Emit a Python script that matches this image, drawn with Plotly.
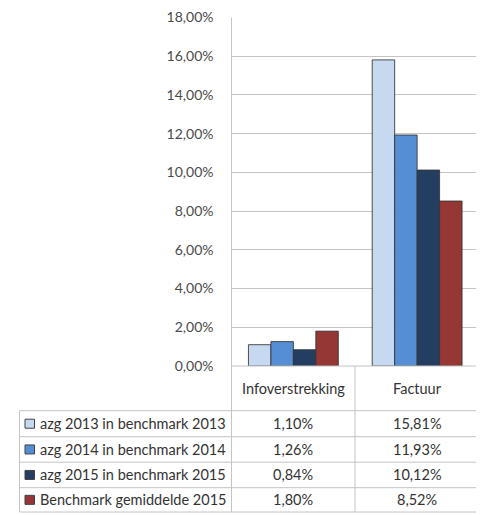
import plotly.graph_objects as go

categories = ["Infoverstrekking", "Factuur"]
series_names = [
    "azg 2013 in benchmark 2013",
    "azg 2014 in benchmark 2014",
    "azg 2015 in benchmark 2015",
    "Benchmark gemiddelde 2015",
]
infoverstrekking = [1.10, 1.26, 0.84, 1.80]
factuur = [15.81, 11.93, 10.12, 8.52]
colors = ["#c6d9f1", "#558ed5", "#233e60", "#953735"]
y_ticks = [0, 2, 4, 6, 8, 10, 12, 14, 16, 18]
y_tick_labels = [f"{v:.2f}%".replace(".", ",") for v in y_ticks]

W, H = 484, 515
OFF = 8  # page body margin compensation
FONT = "Lato"
GRID = "#c4c4c4"
TXT = "#333333"

def px(x):
    return (x - OFF) / W

def py(y):
    return 1 - (y - OFF) / H

fig = go.Figure()
for i, name in enumerate(series_names):
    fig.add_trace(go.Bar(
        x=categories,
        y=[infoverstrekking[i], factuur[i]],
        name=name,
        marker=dict(color=colors[i], line=dict(color="rgba(50,50,50,0.85)", width=1)),
    ))

y0, y18 = 366, 17.5
x_left = 231.5
x_right = W + OFF
cat_w = (479 - 231.5) / 2
fig.update_layout(
    width=W, height=H,
    margin=dict(l=0, r=0, t=0, b=0, pad=0),
    paper_bgcolor="white", plot_bgcolor="white",
    barmode="group", bargap=0.274, bargroupgap=0,
    showlegend=False,
    separators=",.",
    font=dict(family=FONT, size=14, color=TXT),
    xaxis=dict(
        domain=[px(x_left), px(x_right)],
        range=[-0.5, -0.5 + (x_right - x_left) / cat_w],
        showticklabels=False, showgrid=False, zeroline=False, showline=False,
        fixedrange=True, automargin=False,
    ),
    yaxis=dict(
        domain=[py(y0), py(y18)],
        range=[0, 18],
        tickmode="array",
        tickvals=y_ticks,
        ticktext=y_tick_labels,
        showgrid=True, gridcolor=GRID, gridwidth=1,
        zeroline=False, showline=False,
        ticks="", ticklabelstandoff=17,
        automargin=False,
        tickfont=dict(family=FONT, size=14, color="#4a4a4a"),
    ),
)

shapes = []
def line(x0, y0_, x1, y1_, color=GRID, w=1):
    shapes.append(dict(type="line", xref="paper", yref="paper",
                       x0=px(x0), y0=py(y0_), x1=px(x1), y1=py(y1_),
                       line=dict(color=color, width=w)))

# axis line extending through table
line(x_left, y18, x_left, 512)
# baseline
line(x_left, y0, x_right, y0)
# category separators in header/table
line(355, y0, 355, 512)
line(479, y0, 479, 512)
# table rows
row_y = [410.7, 436.7, 462.2, 487.7, 512]
for ry in row_y:
    line(19.5, ry, 479, ry)
line(19.5, 410.7, 19.5, 512)

annotations = []
# category labels
for c in categories:
    annotations.append(dict(x=c, y=py(388), xref="x", yref="paper", text=c,
                            showarrow=False, font=dict(family=FONT, size=14.5, color=TXT),
                            xanchor="center", yanchor="middle"))

col_x = [293, 417]
for r, name in enumerate(series_names):
    cy = (row_y[r] + row_y[r + 1]) / 2
    # legend square
    shapes.append(dict(type="rect", xref="paper", yref="paper",
                       x0=px(25), x1=px(34.5), y0=py(cy - 4.5), y1=py(cy + 4.5),
                       fillcolor=colors[r], line=dict(color="#404040", width=1)))
    annotations.append(dict(x=px(37.5), y=py(cy), xref="paper", yref="paper", text=name,
                            showarrow=False, font=dict(family=FONT, size=14.5, color=TXT),
                            xanchor="left", yanchor="middle"))
    for j, vals in enumerate([infoverstrekking, factuur]):
        txt = f"{vals[r]:.2f}%".replace(".", ",")
        annotations.append(dict(x=px(col_x[j]), y=py(cy), xref="paper", yref="paper", text=txt,
                                showarrow=False, font=dict(family=FONT, size=14.5, color=TXT),
                                xanchor="center", yanchor="middle"))

fig.update_layout(shapes=shapes, annotations=annotations)
fig.write_html("out.html")
